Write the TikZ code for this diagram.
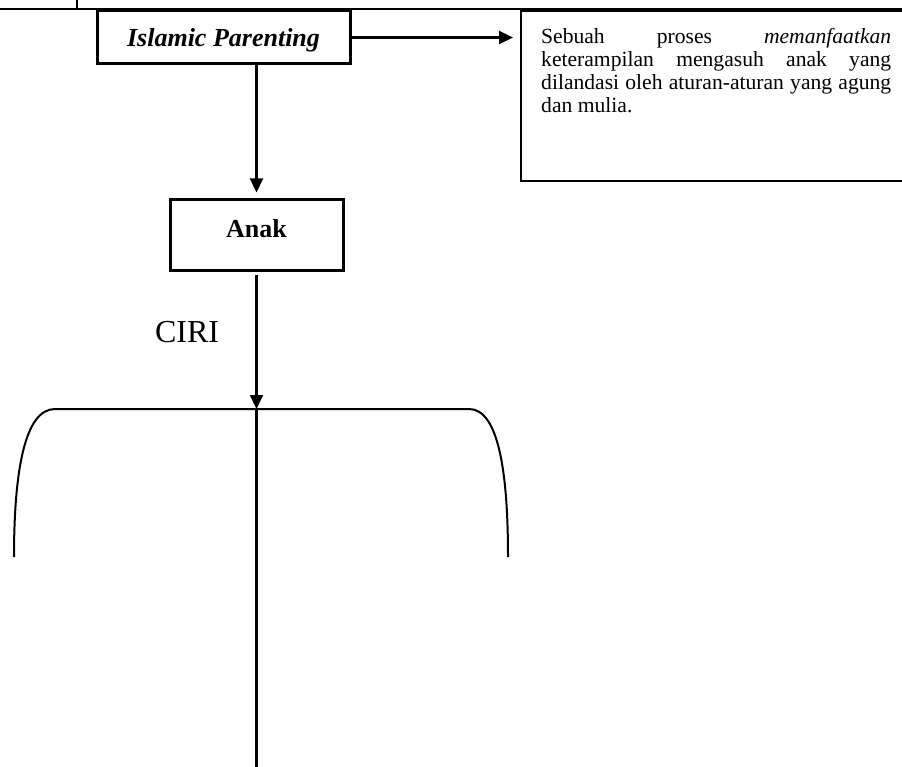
\documentclass[tikz,border=0pt]{standalone}
\usepackage{fontspec}
\setmainfont{Liberation Serif}
\usetikzlibrary{arrows.meta,calc}
\begin{document}
\begin{tikzpicture}[x=1pt,y=-1pt,
  thickbox/.style={draw,line width=3pt,inner sep=0pt,font=\fontsize{26}{30}\selectfont\bfseries},
  conn/.style={line width=2.2pt,-{Triangle[length=14pt,width=13pt]}},
  plainline/.style={line width=2pt},
]
\clip (0,0) rectangle (902,767);
\useasboundingbox (0,0) rectangle (902,767);
% table borders
\coordinate (tl) at (0,9);
\coordinate (tr) at (902,9);
\coordinate (vt) at (77,0);
\coordinate (vb) at (77,9);
\draw[line width=2.5pt] (tl) -- (tr);
\draw[line width=2pt] (vt) -- (vb);
% nodes
\node[thickbox,minimum width=253pt,minimum height=53pt,text height=18pt,text depth=0pt,
      font=\fontsize{26}{30}\selectfont\bfseries\itshape] (ip) at (223.5,37.5) {Islamic Parenting};
\node[thickbox,minimum width=173pt,minimum height=71pt,text height=18pt,text depth=13pt] (anak) at (256.5,235.5) {Anak};
\node[draw,line width=2pt,minimum width=400pt,minimum height=170pt,anchor=north west,inner sep=0pt] (defbox) at (520,10) {};
\node[anchor=north west,inner sep=0pt,font=\fontsize{21.6}{23}\selectfont] (deftext) at (541,28.3)
  {\vbox{\hbox to 350pt{Sebuah\hfill proses\hfill \textit{memanfaatkan}}
   \hbox to 350pt{keterampilan\hfill mengasuh\hfill anak\hfill yang}
   \hbox to 350pt{dilandasi\hfil\ oleh\hfil\ aturan-aturan\hfil\ yang\hfil\ agung}
   \hbox to 350pt{dan mulia.\hfill}}};
\node[anchor=base,inner sep=0pt,font=\fontsize{32}{36}\selectfont] (ciri) at (187,342) {CIRI};
% connectors
\draw[conn,shorten >=7pt] (ip.east) -- (ip.east -| defbox.west);
\draw[conn,shorten >=6pt] (ip.south -| anak.north) -- (anak.north);
\coordinate (j) at (256.5,409);
\draw[conn,shorten <=3pt] (anak.south) -- (j);
% bracket
\coordinate (bl) at (55,409);
\coordinate (br) at (469,409);
\coordinate (bl2) at (14,557);
\coordinate (br2) at (508,557);
\draw[plainline] (bl2) .. controls (14,470) and (25,409) .. (bl) -- (br) .. controls (498,409) and (508,470) .. (br2);
\coordinate (bot) at (256.5,767);
\draw[line width=2.5pt] (j) -- (bot);
\end{tikzpicture}
\end{document}
